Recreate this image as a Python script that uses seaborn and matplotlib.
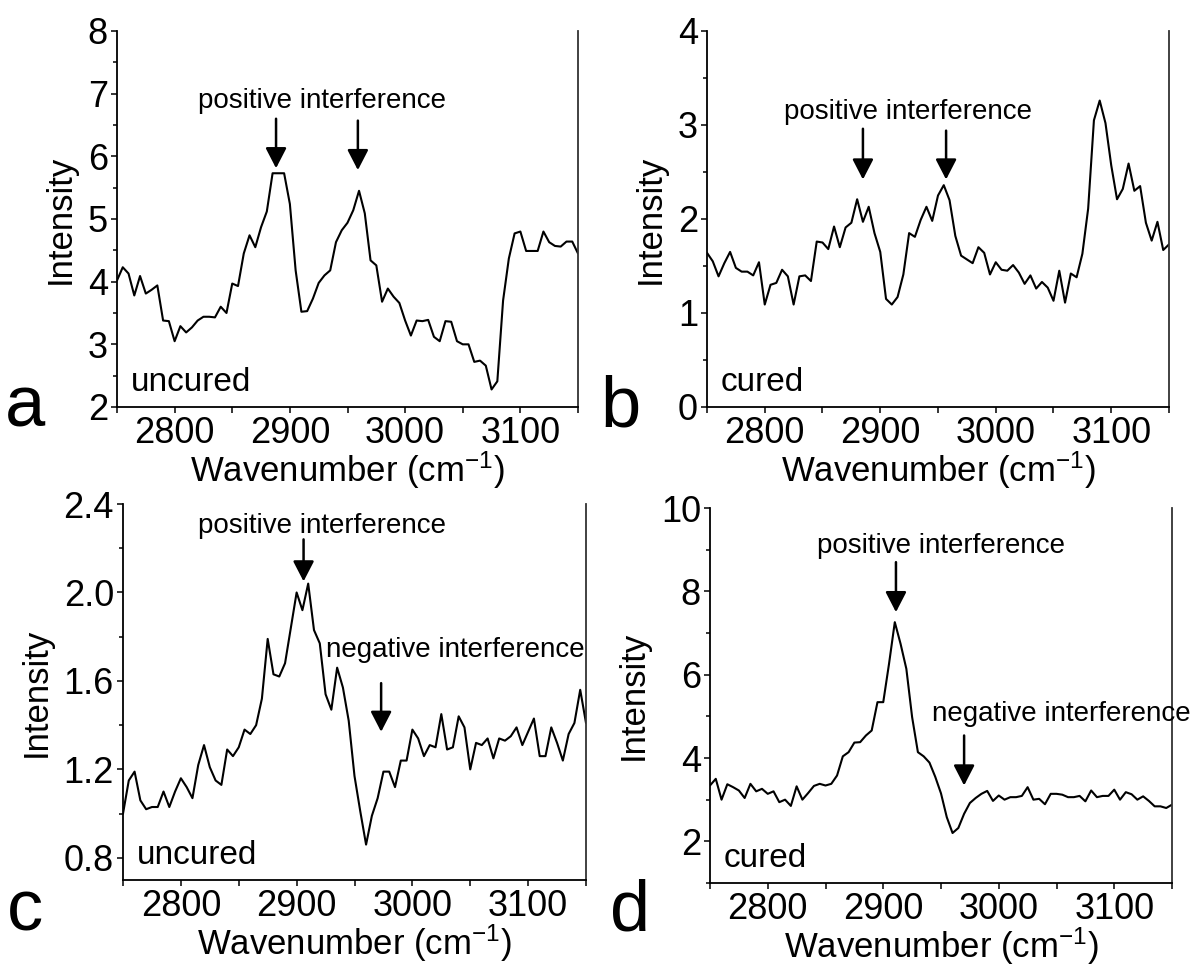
import numpy as np
import pandas as pd
import matplotlib
matplotlib.use("Agg")
import matplotlib.pyplot as plt
from matplotlib.ticker import MultipleLocator, FormatStrFormatter
import seaborn as sns

# ---------------- data ----------------
wavenumber = [2750, 2755, 2760, 2765, 2770, 2775, 2780, 2785, 2790, 2795,
              2800, 2805, 2810, 2815, 2820, 2825, 2830, 2835, 2840, 2845,
              2850, 2855, 2860, 2865, 2870, 2875, 2880, 2885, 2890, 2895,
              2900, 2905, 2910, 2915, 2920, 2925, 2930, 2935, 2940, 2945,
              2950, 2955, 2960, 2965, 2970, 2975, 2980, 2985, 2990, 2995,
              3000, 3005, 3010, 3015, 3020, 3025, 3030, 3035, 3040, 3045,
              3050, 3055, 3060, 3065, 3070, 3075, 3080, 3085, 3090, 3095,
              3100, 3105, 3110, 3115, 3120, 3125, 3130, 3135, 3140, 3145,
              3150]

intensity_a = [4.02, 4.23, 4.13, 3.78, 4.09, 3.81, 3.87, 3.94, 3.38, 3.37,
               3.05, 3.29, 3.19, 3.27, 3.38, 3.44, 3.44, 3.43, 3.60, 3.50,
               3.97, 3.93, 4.45, 4.74, 4.55, 4.87, 5.12, 5.73, 5.73, 5.73,
               5.24, 4.18, 3.52, 3.53, 3.73, 3.98, 4.10, 4.18, 4.63, 4.82,
               4.94, 5.14, 5.45, 5.09, 4.34, 4.26, 3.68, 3.89, 3.76, 3.66,
               3.38, 3.14, 3.38, 3.37, 3.39, 3.12, 3.05, 3.37, 3.36, 3.05,
               3.00, 3.00, 2.72, 2.74, 2.66, 2.28, 2.41, 3.70, 4.37, 4.77,
               4.80, 4.49, 4.49, 4.49, 4.80, 4.63, 4.57, 4.56, 4.64, 4.64,
               4.45]

intensity_b = [1.64, 1.55, 1.39, 1.53, 1.65, 1.48, 1.44, 1.44, 1.40, 1.54,
               1.09, 1.30, 1.32, 1.46, 1.39, 1.09, 1.39, 1.40, 1.34, 1.76,
               1.75, 1.68, 1.92, 1.70, 1.91, 1.96, 2.21, 1.97, 2.13, 1.85,
               1.65, 1.15, 1.09, 1.17, 1.41, 1.85, 1.81, 1.99, 2.13, 1.98,
               2.25, 2.36, 2.20, 1.82, 1.61, 1.57, 1.53, 1.70, 1.64, 1.41,
               1.54, 1.46, 1.45, 1.51, 1.43, 1.31, 1.40, 1.26, 1.33, 1.27,
               1.13, 1.45, 1.11, 1.42, 1.38, 1.63, 2.11, 3.05, 3.26, 3.02,
               2.57, 2.21, 2.32, 2.59, 2.30, 2.35, 1.96, 1.77, 1.97, 1.67,
               1.73]

intensity_c = [1.00, 1.15, 1.19, 1.06, 1.02, 1.03, 1.03, 1.10, 1.03, 1.10,
               1.16, 1.12, 1.07, 1.22, 1.31, 1.21, 1.15, 1.13, 1.29, 1.26,
               1.30, 1.38, 1.36, 1.40, 1.52, 1.79, 1.63, 1.62, 1.68, 1.84,
               2.00, 1.92, 2.04, 1.83, 1.77, 1.54, 1.47, 1.66, 1.57, 1.42,
               1.17, 1.01, 0.86, 0.99, 1.07, 1.19, 1.19, 1.12, 1.24, 1.24,
               1.38, 1.34, 1.26, 1.31, 1.30, 1.45, 1.29, 1.30, 1.44, 1.39,
               1.20, 1.32, 1.31, 1.34, 1.25, 1.34, 1.33, 1.35, 1.39, 1.31,
               1.37, 1.43, 1.26, 1.26, 1.39, 1.32, 1.24, 1.36, 1.41, 1.56,
               1.41]

intensity_d = [3.34, 3.50, 3.00, 3.37, 3.30, 3.22, 3.04, 3.38, 3.20, 3.26,
               3.14, 3.20, 2.94, 3.00, 2.85, 3.32, 3.00, 3.16, 3.33, 3.38,
               3.34, 3.38, 3.58, 4.04, 4.14, 4.37, 4.38, 4.54, 4.66, 5.34,
               5.34, 6.26, 7.26, 6.74, 6.14, 4.98, 4.14, 4.04, 3.89, 3.55,
               3.15, 2.58, 2.20, 2.32, 2.66, 2.92, 3.04, 3.14, 3.21, 2.97,
               3.10, 3.00, 3.06, 3.06, 3.09, 3.30, 3.00, 3.02, 2.89, 3.14,
               3.14, 3.12, 3.06, 3.06, 3.09, 2.96, 3.22, 3.06, 3.09, 3.09,
               3.24, 3.00, 3.18, 3.13, 3.00, 3.08, 2.97, 2.84, 2.84, 2.80,
               2.88]

panel_letters = ["a", "b", "c", "d"]
sample_labels = ["uncured", "cured", "uncured", "cured"]
x_major_ticks = [2800, 2900, 3000, 3100]
x_label = "Wavenumber (cm$^{-1}$)"
y_label = "Intensity"
pos_text = "positive interference"
neg_text = "negative interference"

# ---------------- style ----------------
sns.set_style("ticks")
plt.rcParams["font.family"] = ["Liberation Sans", "DejaVu Sans"]
plt.rcParams["mathtext.default"] = "regular"
for key in ["text.color", "axes.labelcolor", "xtick.color", "ytick.color",
            "axes.edgecolor"]:
    plt.rcParams[key] = "black"

W, H = 1195, 973
fig = plt.figure(figsize=(W / 100, H / 100), dpi=100)


def px_axes(left, top, right, bottom):
    return fig.add_axes([left / W, 1 - bottom / H, (right - left) / W, (bottom - top) / H])


axes_px = [(117, 31, 578, 407), (707, 31, 1169, 407),
           (123, 504, 586, 880), (710, 508, 1172, 883)]
ylims = [(2, 8), (0, 4), (0.7, 2.4), (1, 10)]
y_major = [1, 1, 0.4, 2]
y_minor = [0.5, 0.5, 0.2, 1]
series = [intensity_a, intensity_b, intensity_c, intensity_d]

TICK_FS = 26
LABEL_FS = 25
ANN_FS = 20
SAMPLE_FS = 24

axes = []
for i, box in enumerate(axes_px):
    ax = px_axes(*box)
    df = pd.DataFrame({"wavenumber": wavenumber, "intensity": series[i]})
    sns.lineplot(data=df, x="wavenumber", y="intensity", ax=ax,
                 color="black", linewidth=1.5)
    ax.set_xlim(2750, 3150)
    ax.set_xticks(x_major_ticks)
    ax.xaxis.set_minor_locator(MultipleLocator(50))
    ax.yaxis.set_major_locator(MultipleLocator(y_major[i]))
    ax.yaxis.set_minor_locator(MultipleLocator(y_minor[i]))
    if i == 2:
        ax.yaxis.set_major_formatter(FormatStrFormatter("%.1f"))
    ax.set_ylim(*ylims[i])
    ax.tick_params(axis="both", which="major", direction="out", length=4.5,
                   width=1.1, labelsize=TICK_FS, pad=2, color="black",
                   labelcolor="black")
    ax.tick_params(axis="both", which="minor", direction="out", length=3,
                   width=1.1, color="black")
    ax.tick_params(axis="x", which="minor", length=4.5)
    for s in ["left", "bottom"]:
        ax.spines[s].set_linewidth(1.3)
        ax.spines[s].set_color("black")
    ax.spines["top"].set_visible(False)
    ax.spines["right"].set_visible(True)
    ax.spines["right"].set_linewidth(1.3)
    ax.spines["right"].set_color("#333333")
    ax.set_xlabel(x_label, fontsize=LABEL_FS, labelpad=-1)
    ax.set_ylabel(y_label, fontsize=LABEL_FS, labelpad=8)
    ax.text(0.03, 0.042, sample_labels[i], transform=ax.transAxes,
            fontsize=SAMPLE_FS, ha="left", va="baseline")
    axes.append(ax)

arrow_kw = dict(arrowstyle="-|>,head_length=0.62,head_width=0.32",
                color="black", lw=1.8, mutation_scale=20,
                shrinkA=0, shrinkB=0)


def arrow(ax, x, y_tail, y_tip):
    ax.annotate("", xy=(x, y_tip), xytext=(x, y_tail), arrowprops=arrow_kw)


# panel a
ax = axes[0]
ax.text(2928, 6.88, pos_text, fontsize=ANN_FS, ha="center", va="center")
arrow(ax, 2888, 6.6, 5.81)
arrow(ax, 2959, 6.57, 5.78)

# panel b
ax = axes[1]
ax.text(2924, 3.14, pos_text, fontsize=ANN_FS, ha="center", va="center")
arrow(ax, 2885, 2.96, 2.42)
arrow(ax, 2957, 2.94, 2.42)

# panel c
ax = axes[2]
ax.text(2922, 2.30, pos_text, fontsize=ANN_FS, ha="center", va="center")
arrow(ax, 2906, 2.24, 2.05)
ax.text(3037, 1.74, neg_text, fontsize=ANN_FS, ha="center", va="center")
arrow(ax, 2973, 1.59, 1.37)

# panel d
ax = axes[3]
ax.text(2950, 9.08, pos_text, fontsize=ANN_FS, ha="center", va="center")
arrow(ax, 2911, 8.7, 7.5)
ax.text(3054, 5.05, neg_text, fontsize=ANN_FS, ha="center", va="center",
        clip_on=False)
arrow(ax, 2970, 4.54, 3.34)

# panel letters
letter_pos = [(25, 408), (620, 408), (25, 912), (630, 912)]
for letter, (lx, ly) in zip(panel_letters, letter_pos):
    fig.text(lx / W, 1 - ly / H, letter, fontsize=52, ha="center", va="center")

fig.savefig("out.png", dpi=100)
